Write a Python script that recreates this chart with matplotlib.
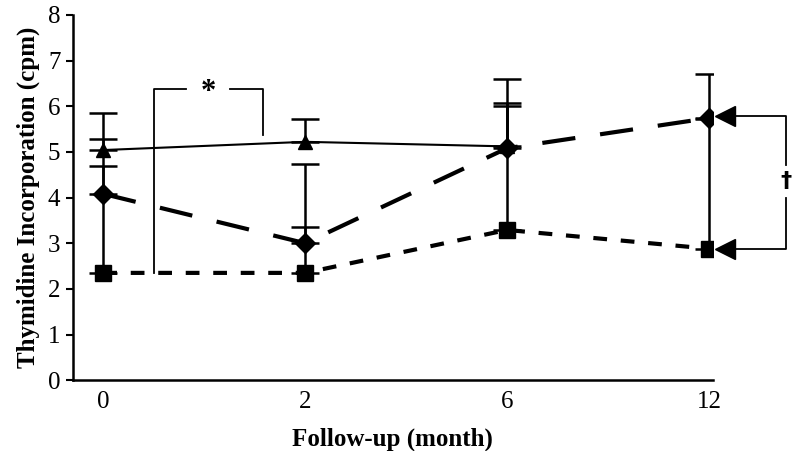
import numpy as np
import matplotlib
matplotlib.use("Agg")
from matplotlib import pyplot as plt

plt.rcParams['font.family'] = ['Liberation Serif', 'DejaVu Serif']

months = ['0', '2', '6', '12']
tri = [5.04, 5.22, 5.12, np.nan]
tri_err = [0.81, 0.50, 1.48, 0.0]
dia = [4.08, 3.00, 5.08, 5.74]
dia_err = [1.20, 1.74, 0.99, 0.97]
sq = [2.35, 2.35, 3.29, 2.88]
sq_err = [2.33, 1.01, 2.71, 2.84]

x = np.arange(len(months))

fig = plt.figure(figsize=(7.93, 4.51), dpi=100)
ax = fig.add_axes([0.092, 0.157, 0.807, 0.81])

ax.errorbar(x, tri, yerr=[np.zeros(4), tri_err], fmt='none', ecolor='black',
            elinewidth=1.8, capsize=10, capthick=1.8, zorder=2)
ax.errorbar(x, dia, yerr=[np.zeros(4), dia_err], fmt='none', ecolor='black',
            elinewidth=1.8, capsize=10, capthick=1.8, zorder=2)
ax.errorbar(x, sq, yerr=[np.zeros(4), sq_err], fmt='none', ecolor='black',
            elinewidth=1.8, capsize=10, capthick=1.8, zorder=2)

ax.plot(x, tri, color='black', lw=1.5, marker='^', ms=10, zorder=3)
ax.plot(x, sq, color='black', lw=3, dashes=(3.3, 3.3), marker='s', ms=11, zorder=3)
ax.plot(x, dia, color='black', lw=3, dashes=(8, 6), marker='D', ms=10, zorder=4)

# significance bracket (*)
ax.plot([0.25, 0.25, 0.41], [2.35, 6.38, 6.38], color='black', lw=1.3, zorder=1)
ax.plot([0.63, 0.79, 0.79], [6.38, 6.38, 5.37], color='black', lw=1.3, zorder=1)
ax.text(0.52, 6.3, '*', ha='center', va='center', fontsize=22, fontweight='bold')

# bracket at 12 months (dagger)
ax.plot([3.07, 3.38, 3.38], [5.78, 5.78, 4.72], color='black', lw=1.3,
        clip_on=False, zorder=1)
ax.plot([3.38, 3.38, 3.07], [4.0, 2.87, 2.87], color='black', lw=1.3,
        clip_on=False, zorder=1)
ax.plot([3.08, 3.08], [5.78, 2.87], ls='none', marker='<', ms=14, color='black',
        clip_on=False, zorder=5)
ax.text(3.38, 4.36, '\u2020', ha='center', va='center', fontsize=16,
        fontweight='bold', family='DejaVu Sans', clip_on=False)

ax.set_xlim(-0.15, 3.02)
ax.set_ylim(0, 8)
ax.set_xticks(x)
ax.set_xticklabels(months)
ax.set_yticks(range(0, 9))
ax.tick_params(axis='x', length=0, labelsize=18, pad=8)
ax.tick_params(axis='y', length=5, width=1.5, labelsize=18, direction='out', pad=4)
for s in ['top', 'right']:
    ax.spines[s].set_visible(False)
for s in ['left', 'bottom']:
    ax.spines[s].set_linewidth(1.8)

ax.set_xlabel('Follow-up (month)', fontsize=18, fontweight='bold', labelpad=10)
ax.set_ylabel('Thymidine Incorporation (cpm)', fontsize=18, fontweight='bold', labelpad=6)

fig.savefig('out.png', dpi=100)
